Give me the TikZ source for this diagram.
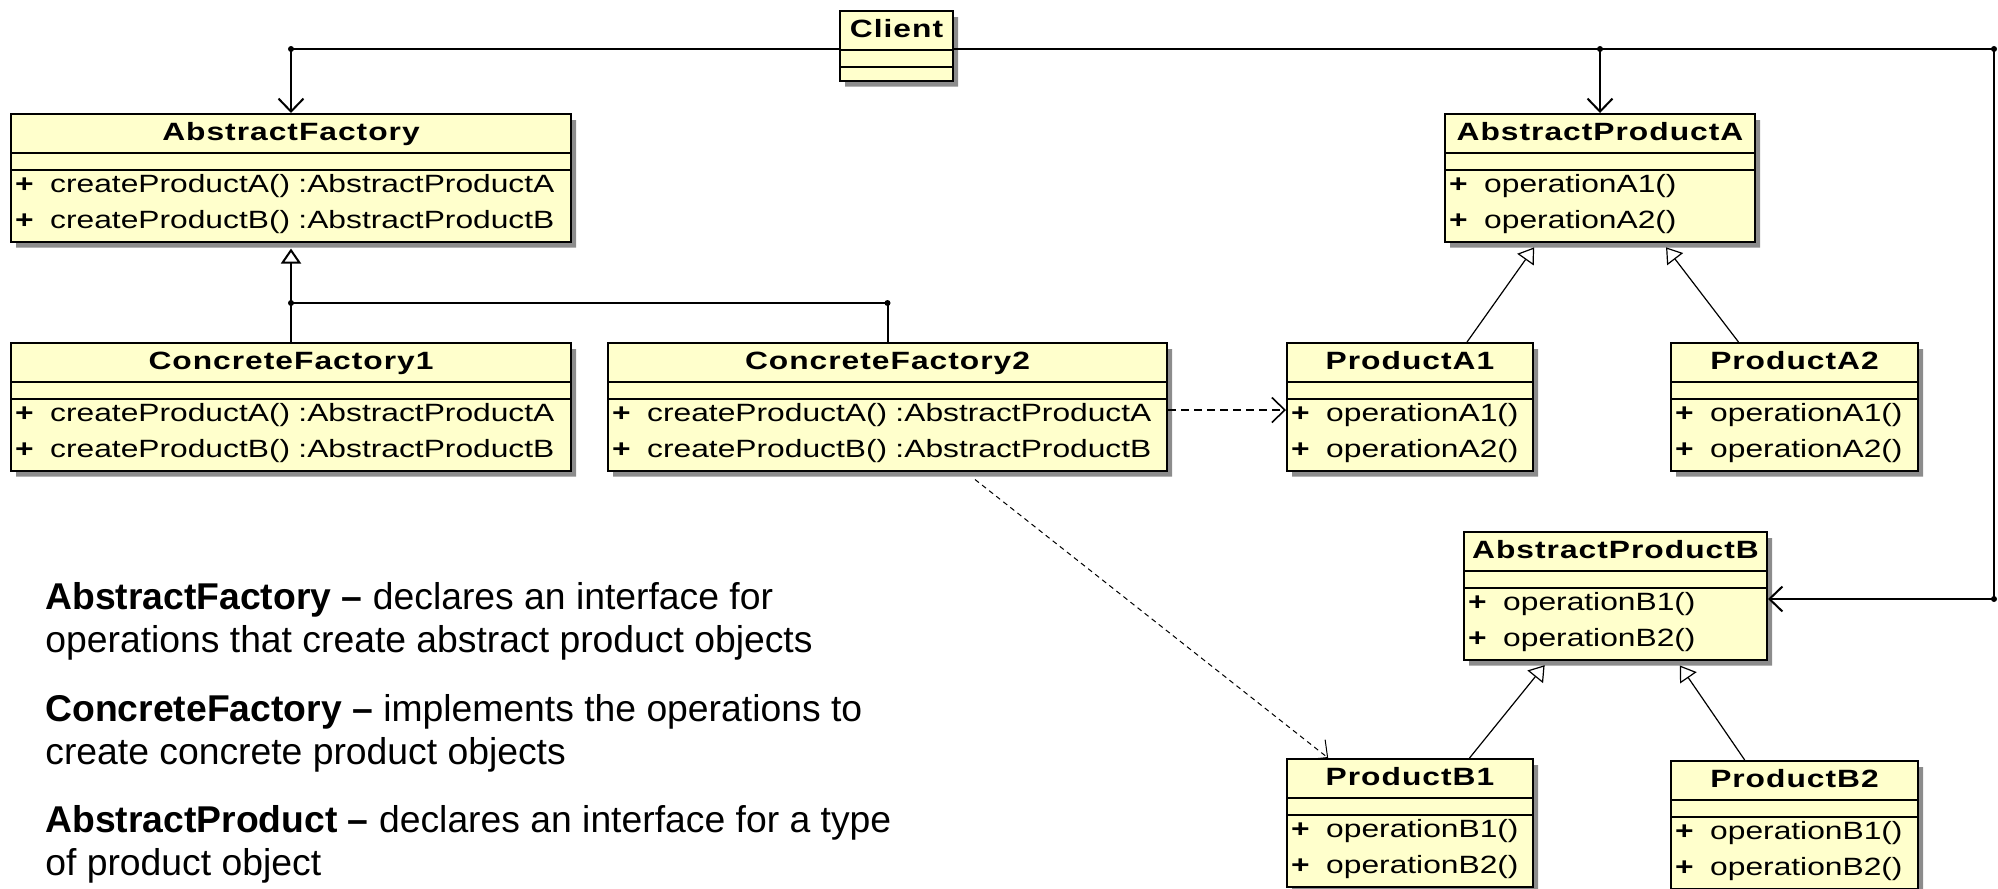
\documentclass[tikz,border=0pt]{standalone}
\usepackage{fontspec}
\setmainfont{Liberation Sans}
\newfontfamily\umlfont[FakeStretch=1.27]{Liberation Sans}
\newfontfamily\umltitlefont[FakeStretch=1.27,LetterSpace=4]{Liberation Sans}
\usetikzlibrary{shapes.multipart,shadows,arrows.meta,calc}
\definecolor{umlfill}{RGB}{255,255,204}
\definecolor{umlshadow}{RGB}{140,140,140}
\setlength{\parindent}{0pt}
\newcommand\umlname[1]{\centering\rule[-5.75pt]{0pt}{18.25pt}{\umltitlefont\bfseries\fontsize{12.5}{14}\selectfont #1}\par}
\newcommand\umlattr{\rule{0pt}{7.75pt}}
\newcommand\umlops[2]{\rule{0pt}{10.5pt}\textbf{+}\ \ #1\\\textbf{+}\ \ #2\rule[-6.25pt]{0pt}{6.25pt}}

\begin{document}
\begin{tikzpicture}[x=0.5pt, y=-0.5pt,
  umlclass/.style={rectangle split, rectangle split parts=3, draw, line width=1pt, fill=umlfill,
    drop shadow={shadow xshift=2.5pt, shadow yshift=-3pt, fill=umlshadow, opacity=1},
    inner xsep=2pt, inner ysep=0pt, text width=#1, align=left, anchor=north west,
    font=\umlfont\fontsize{12.5}{18}\selectfont},
  assoc/.style={-{Straight Barb[length=6.5pt, width=12.5pt]}},
  gen/.style={-{Triangle[length=7.5pt, width=10pt, fill=white]}},
  dep/.style={dashed, -{Straight Barb[length=6.5pt, width=12.5pt]}},
  joint/.style={circle, fill, inner sep=0pt, minimum size=3pt},
  desc/.style={align=left, anchor=base west, inner sep=0pt, font=\fontsize{18.65}{21.25}\selectfont}]
  \useasboundingbox (0,0) rectangle (1998,889);
  \node[umlclass=52.5pt] (client) at (839,10) {\umlname{Client}\nodepart{two}\umlattr\nodepart{three}\rule{0pt}{5.75pt}};
  \node[umlclass=276pt] (absfactory) at (10,113) {\umlname{AbstractFactory}\nodepart{two}\umlattr\nodepart{three}\umlops{createProductA() :AbstractProductA}{createProductB() :AbstractProductB}};
  \node[umlclass=276pt] (factory1) at (10,342) {\umlname{ConcreteFactory1}\nodepart{two}\umlattr\nodepart{three}\umlops{createProductA() :AbstractProductA}{createProductB() :AbstractProductB}};
  \node[umlclass=275.5pt] (factory2) at (607,342) {\umlname{ConcreteFactory2}\nodepart{two}\umlattr\nodepart{three}\umlops{createProductA() :AbstractProductA}{createProductB() :AbstractProductB}};
  \node[umlclass=151pt] (absproda) at (1444,113) {\umlname{AbstractProductA}\nodepart{two}\umlattr\nodepart{three}\umlops{operationA1()}{operationA2()}};
  \node[umlclass=119pt] (proda1) at (1286,342) {\umlname{ProductA1}\nodepart{two}\umlattr\nodepart{three}\umlops{operationA1()}{operationA2()}};
  \node[umlclass=119.5pt] (proda2) at (1670,342) {\umlname{ProductA2}\nodepart{two}\umlattr\nodepart{three}\umlops{operationA1()}{operationA2()}};
  \node[umlclass=147.5pt] (absprodb) at (1463,531) {\umlname{AbstractProductB}\nodepart{two}\umlattr\nodepart{three}\umlops{operationB1()}{operationB2()}};
  \node[umlclass=119pt] (prodb1) at (1286,758) {\umlname{ProductB1}\nodepart{two}\umlattr\nodepart{three}\umlops{operationB1()}{operationB2()}};
  \node[umlclass=119.5pt] (prodb2) at (1670,760) {\umlname{ProductB2}\nodepart{two}\umlattr\nodepart{three}\umlops{operationB1()}{operationB2()}};
  \coordinate (cleft) at ($(client.north west)+(0,39)$);
  \coordinate (cright) at ($(client.north east)+(0,39)$);
  \coordinate (jfactory) at (absfactory.north |- cleft);
  \coordinate (jproda) at (absproda.north |- cright);
  \coordinate (jright) at (1994,49);
  \coordinate (jprodb) at (1994,599);
  \coordinate (jcf1) at (absfactory.south |- 0,303);
  \coordinate (jcf2) at (factory2.north |- 0,303);
  \coordinate (depout) at ($(factory2.south west)+(368,8)$);
  \draw[assoc, line width=1pt] (cleft) -- (jfactory) -- (absfactory.north);
  \draw[line width=1pt] (cright) -- (jright) -- (jprodb);
  \draw[assoc, line width=1pt] (jproda) -- (absproda.north);
  \draw[assoc, line width=1pt] (jprodb) -- (absprodb.east |- jprodb);
  \draw[gen, line width=1pt, shorten >=3pt] (jcf1) -- (absfactory.south);
  \draw[line width=1pt] (factory1.north) -- (jcf1) -- (jcf2) -- (factory2.north);
  \draw[gen, line width=0.6pt, shorten >=3pt] ($(proda1.north west)!0.73!(proda1.north east)$) -- ($(absproda.south west)!0.3!(absproda.south east)$);
  \draw[gen, line width=0.6pt, shorten >=3pt] ($(proda2.north west)!0.275!(proda2.north east)$) -- ($(absproda.south west)!0.7!(absproda.south east)$);
  \draw[gen, line width=0.6pt, shorten >=3pt] ($(prodb1.north west)!0.74!(prodb1.north east)$) -- ($(absprodb.south west)!0.28!(absprodb.south east)$);
  \draw[gen, line width=0.6pt, shorten >=3pt] ($(prodb2.north west)!0.3!(prodb2.north east)$) -- ($(absprodb.south west)!0.7!(absprodb.south east)$);
  \draw[dep, line width=0.8pt, dash pattern=on 4pt off 2.5pt] (factory2.east |- 0,410) -- (proda1.west |- 0,410);
  \draw[dep, line width=0.5pt, dash pattern=on 2.5pt off 2pt] (depout) -- ($(prodb1.north west)!0.17!(prodb1.north east)$);
  \node[joint] (dot1) at (jfactory) {};
  \node[joint] (dot2) at (jproda) {};
  \node[joint] (dot3) at (jright) {};
  \node[joint] (dot4) at (jprodb) {};
  \node[joint] (dot5) at (jcf1) {};
  \node[joint] (dot6) at (jcf2) {};
  \node[desc] (noteaf) at (45,652) {\textbf{AbstractFactory –} declares an interface for\\operations that create abstract product objects};
  \node[desc] (notecf) at (45,764) {\textbf{ConcreteFactory –} implements the operations to\\create concrete product objects};
  \node[desc] (noteap) at (45,875) {\textbf{AbstractProduct –} declares an interface for a type\\of product object};
\end{tikzpicture}
\end{document}
